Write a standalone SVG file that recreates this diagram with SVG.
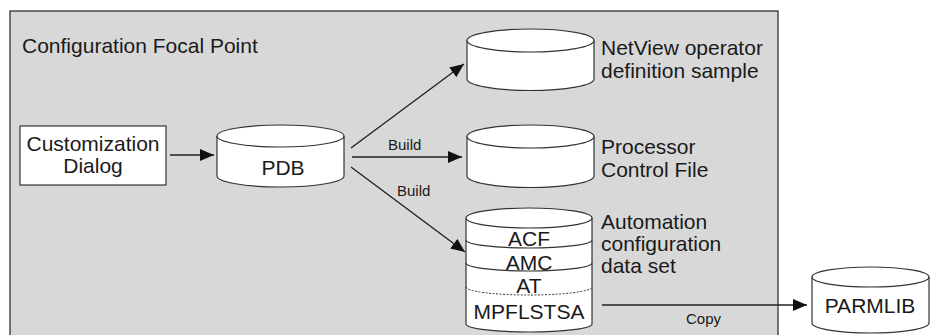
<svg xmlns="http://www.w3.org/2000/svg" width="930" height="335" viewBox="0 0 930 335">
<style>
.t{font-family:"Liberation Sans",Arial,sans-serif;font-size:21px;fill:#1a1a1a}
.s{font-family:"Liberation Sans",Arial,sans-serif;font-size:15px;fill:#1a1a1a}
.c{text-anchor:middle}
.cyl{fill:#fff;stroke:#333;stroke-width:1.2}
.ln{fill:none;stroke:#333;stroke-width:1.2}
.dash{fill:none;stroke:#333;stroke-width:1;stroke-dasharray:2,1.5}
.arr{fill:none;stroke:#222;stroke-width:1.4;marker-end:url(#ah)}
</style>
<defs>
<marker id="ah" markerUnits="userSpaceOnUse" markerWidth="14" markerHeight="12" refX="14" refY="6" orient="auto">
<path d="M0,0 L14,6 L0,12 z" fill="#111"/>
</marker>
</defs>
<rect width="930" height="335" fill="#fff"/>
<g id="focal-point">
<rect x="10" y="11" width="768" height="340" fill="#d8d8d8" stroke="#333" stroke-width="1.3"/>
<text class="t" x="22" y="53">Configuration Focal Point</text>
</g>
<g id="customization-dialog">
<rect x="20" y="126" width="146" height="59" fill="#fff" stroke="#333" stroke-width="1.2"/>
<text class="t c" x="93" y="151">Customization</text>
<text class="t c" x="93" y="173">Dialog</text>
</g>
<g id="pdb">
<path class="cyl" d="M217,136 L217,176 A63.5,11 0 0 0 344,176 L344,136 A63.5,11 0 0 0 217,136 Z"/>
<path class="ln" d="M217,136 A63.5,11 0 0 0 344,136"/>
<text class="t c" x="283" y="175">PDB</text>
</g>
<g id="netview-sample">
<path class="cyl" d="M467,40.5 L467,79 A63.5,11.5 0 0 0 594,79 L594,40.5 A63.5,11.5 0 0 0 467,40.5 Z"/>
<path class="ln" d="M467,40.5 A63.5,11.5 0 0 0 594,40.5"/>
<text class="t" x="601" y="55">NetView operator</text>
<text class="t" x="601" y="78">definition sample</text>
</g>
<g id="processor-control-file">
<path class="cyl" d="M467,136.5 L467,176 A63.5,11.5 0 0 0 594,176 L594,136.5 A63.5,11.5 0 0 0 467,136.5 Z"/>
<path class="ln" d="M467,136.5 A63.5,11.5 0 0 0 594,136.5"/>
<text class="t" x="601" y="154">Processor</text>
<text class="t" x="601" y="177">Control File</text>
</g>
<g id="automation-data-set">
<path class="cyl" d="M466,218 L466,324 A63,8 0 0 0 592,324 L592,218 A63,10 0 0 0 466,218 Z"/>
<path class="ln" d="M466,218 A63,10 0 0 0 592,218"/>
<path class="ln" d="M466,240 A63,8 0 0 0 592,240"/>
<path class="ln" d="M466,263 A63,8 0 0 0 592,263"/>
<path class="dash" d="M466,287 A63,8 0 0 0 592,287"/>
<text class="t c" x="529" y="246">ACF</text>
<text class="t c" x="529" y="270">AMC</text>
<text class="t c" x="529" y="293">AT</text>
<text class="t c" x="529" y="319">MPFLSTSA</text>
<text class="t" x="601" y="229">Automation</text>
<text class="t" x="601" y="251">configuration</text>
<text class="t" x="601" y="273">data set</text>
</g>
<g id="parmlib">
<path class="cyl" d="M812,277 L812,323 A58.5,10 0 0 0 929,323 L929,277 A58.5,10 0 0 0 812,277 Z"/>
<path class="ln" d="M812,277 A58.5,10 0 0 0 929,277"/>
<text class="t c" x="870" y="313">PARMLIB</text>
</g>
<g id="connectors">
<line class="arr" x1="170" y1="155" x2="214" y2="155"/>
<line class="arr" x1="351" y1="148" x2="464" y2="64"/>
<line class="arr" x1="352" y1="157" x2="462" y2="157"/>
<line class="arr" x1="351" y1="167" x2="465" y2="252"/>
<line class="arr" x1="602" y1="305" x2="807" y2="305"/>
<text class="s" x="388" y="150">Build</text>
<text class="s" x="397" y="196">Build</text>
<text class="s" x="686" y="324">Copy</text>
</g>
</svg>
